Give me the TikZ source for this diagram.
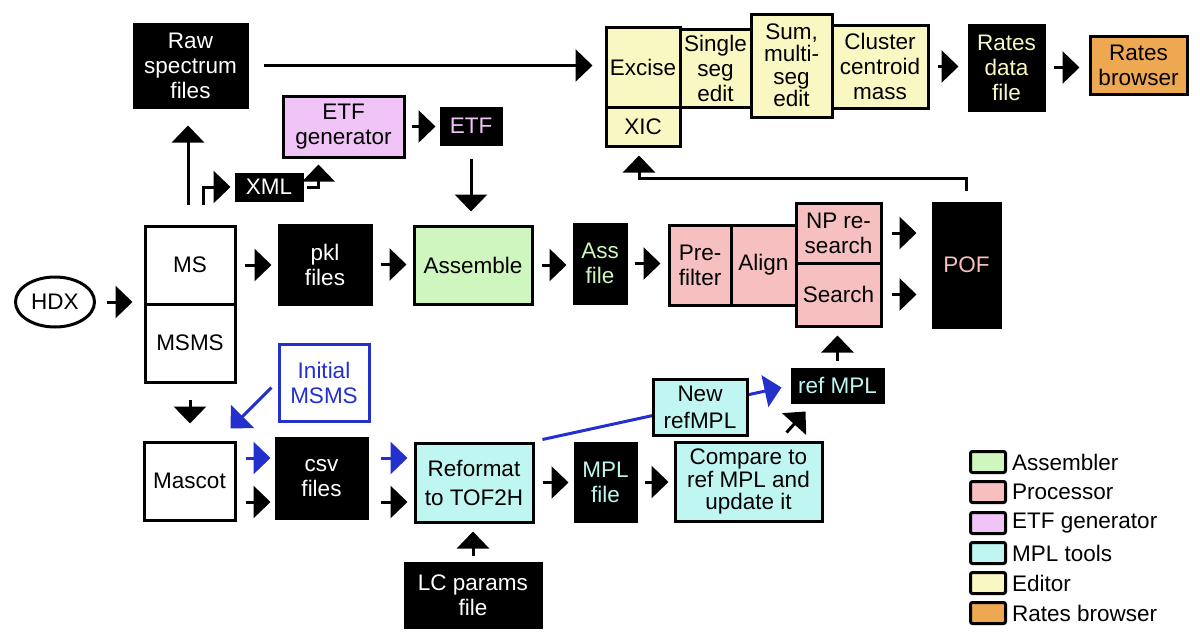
\documentclass[tikz,border=0pt]{standalone}
\usepackage{fontspec}
\setmainfont{Liberation Sans}
\usetikzlibrary{arrows.meta,shapes.geometric,calc}
\definecolor{asmc}{RGB}{206,246,190}
\definecolor{proc}{RGB}{247,192,192}
\definecolor{etfc}{RGB}{240,196,246}
\definecolor{mplc}{RGB}{192,246,242}
\definecolor{edc}{RGB}{250,248,194}
\definecolor{rbc}{RGB}{239,168,82}
\definecolor{bluec}{RGB}{36,48,204}
\newcommand\dfont{\fontsize{22.5}{25}\selectfont}
\newcommand\dfontw{\fontsize{22.5}{29}\selectfont}
\newcommand\dfontn{\fontsize{22.5}{22.5}\selectfont}
\newcommand\bx[7]{\node[#6,minimum width={#4-#2},minimum height={#5-#3}] (#1) at ({(#2+#4)/2},{(#3+#5)/2}) {#7};}
\tikzset{
  base/.style={line width=3pt, inner sep=0pt, align=center, font=\dfont},
  blk/.style={base, fill=black, draw=black, text=white},
  wbox/.style={base, fill=white, draw=black},
  asmb/.style={base, fill=asmc, draw=black},
  prob/.style={base, fill=proc, draw=black},
  etfb/.style={base, fill=etfc, draw=black},
  mplb/.style={base, fill=mplc, draw=black},
  edb/.style={base, fill=edc, draw=black},
  rbb/.style={base, fill=rbc, draw=black},
  arr/.style={line width=3pt, -{Triangle[length=17pt,width=32pt]}},
  barr/.style={arr, draw=bluec, fill=bluec},
  legbox/.style={draw=black, line width=3pt, minimum width=35, minimum height=21, rounded corners=2pt, inner sep=0pt},
  legtxt/.style={anchor=west, inner sep=0pt, font=\dfont}
}
\begin{document}
\begin{tikzpicture}[x=1pt,y=-1pt]
\useasboundingbox (0,0) rectangle (1200,640);
\fill[white] (0,0) rectangle (1200,640);
% top row
\bx{raw}{134}{24}{247}{107}{blk}{Raw\\spectrum\\files}
\bx{etfgen}{283}{96}{404}{157}{etfb}{ETF\\generator}
\bx{etf}{441}{108}{501}{144}{blk,text=etfc}{ETF}
\bx{xml}{236}{174}{302}{200}{blk}{XML}
% editor
\bx{excise}{606}{27}{680}{107}{edb}{Excise}
\bx{xic}{606}{107}{680}{146}{edb}{XIC}
\bx{single}{680}{29}{751}{107}{edb}{Single\\seg\\edit}
\bx{sum}{751}{14}{832}{117}{edb,font=\dfontn}{Sum,\\multi-\\seg\\edit}
\bx{cluster}{832}{25}{928}{108}{edb}{Cluster\\centroid\\mass}
\bx{rates}{969}{25}{1044}{110}{blk,text=edc}{Rates\\data\\file}
\bx{browser}{1090}{36}{1187}{94}{rbb}{Rates\\browser}
% middle row
\node[ellipse, draw=black, line width=3pt, minimum width=79, minimum height=50, inner sep=0pt, font=\dfont] (hdx) at (55,302) {HDX};
\bx{ms}{145}{226}{235}{304}{wbox}{MS}
\bx{msms}{145}{304}{235}{382}{wbox}{MSMS}
\bx{pkl}{279}{225}{371}{304}{blk}{pkl\\files}
\bx{asm}{414}{226}{532}{304}{asmb}{Assemble}
\bx{ass}{574}{224}{626}{303}{blk,text=asmc}{Ass\\file}
\bx{pre}{669}{225}{731}{305}{prob}{Pre-\\filter}
\bx{align}{731}{225}{796}{305}{prob}{Align}
\bx{np}{796}{203}{881}{263}{prob}{NP re-\\search}
\bx{search}{796}{263}{881}{326}{prob}{Search}
\bx{pof}{933}{203}{1000}{327}{blk,text=proc}{POF}
% bottom row
\bx{init}{279}{344}{369}{421}{wbox,draw=bluec,text=bluec}{Initial\\MSMS}
\bx{mascot}{144}{442}{235}{520}{wbox}{Mascot}
\bx{csv}{276}{438}{367}{518}{blk}{csv\\files}
\bx{reformat}{415}{443}{533}{522}{mplb,font=\dfontw}{Reformat\\to TOF2H}
\bx{mplf}{575}{443}{636}{521}{blk,text=mplc}{MPL\\file}
\bx{compare}{675}{442}{822}{521}{mplb,font=\dfontn}{Compare to\\ref MPL and\\update it}
\bx{refmpl}{792}{369}{883}{402}{blk,text=mplc}{ref MPL}
\draw[barr] ([shift={(8pt,2pt)}]reformat.north east) -- ([shift={(-9pt,-2pt)}]refmpl.west);
\bx{newref}{653}{379}{747}{435}{mplb,font=\fontsize{22.5}{27}\selectfont}{New\\refMPL}
\bx{lc}{405}{563}{541}{627}{blk}{LC params\\file}
% legend
\node[legbox, fill=asmc] (lg1) at (988,462) {};
\node[legtxt] (lt1) at (1012,462) {Assembler};
\node[legbox, fill=proc] (lg2) at (988,492) {};
\node[legtxt] (lt2) at (1012,492) {Processor};
\node[legbox, fill=etfc] (lg3) at (988,523) {};
\node[legtxt] (lt3) at (1012,523) {ETF generator};
\node[legbox, fill=mplc] (lg4) at (988,553) {};
\node[legtxt] (lt4) at (1012,553) {MPL tools};
\node[legbox, fill=edc] (lg5) at (988,583) {};
\node[legtxt] (lt5) at (1012,583) {Editor};
\node[legbox, fill=rbc] (lg6) at (988,613) {};
\node[legtxt] (lt6) at (1012,613) {Rates browser};
% connectors top
\draw[arr,shorten <=15pt,shorten >=12pt] (raw.east) -- (raw.east -| excise.west);
\draw[arr,shorten <=6pt,shorten >=4pt] (etfgen.east) -- (etfgen.east -| etf.west);
\draw[arr,shorten <=13pt,shorten >=13pt] (etf.south) -- (etf.south |- asm.north);
\coordinate (msup) at ([yshift=20pt]ms.north);
\draw[arr,shorten >=17pt] ([xshift=-2pt]msup) -- ([xshift=-2pt]msup |- raw.south);
\draw[arr,shorten >=4pt] ([xshift=13pt]msup) |- (xml.west);
\draw[arr,shorten <=3pt,shorten >=6pt] (xml.east) -| ($(etfgen.south west)+(37,0)$);
\draw[arr,shorten <=8pt,shorten >=9pt] (cluster.east) -- (cluster.east -| rates.west);
\draw[arr,shorten <=8pt,shorten >=9pt] (rates.east) -- (rates.east -| browser.west);
% connectors middle
\draw[arr,shorten <=11pt,shorten >=11pt] (hdx.east) -- (hdx.east -| ms.west);
\draw[arr,shorten <=8pt,shorten >=6pt] (ms.east) -- (ms.east -| pkl.west);
\draw[arr,shorten <=8pt,shorten >=6pt] (pkl.east) -- (pkl.east -| asm.west);
\draw[arr,shorten <=8pt,shorten >=6pt] (asm.east) -- (asm.east -| ass.west);
\draw[arr,shorten <=7pt,shorten >=7pt] (ass.east) -- (ass.east -| pre.west);
\draw[arr,shorten <=9pt,shorten >=15pt] (np.east) -- (np.east -| pof.west);
\draw[arr,shorten <=9pt,shorten >=15pt] (search.east) -- (search.east -| pof.west);
\coordinate (fb) at (0,178);
\draw[arr,shorten <=11pt,shorten >=8pt] (pof.north) -- (pof.north |- fb) -- ([xshift=-4pt]xic.south |- fb) -- ([xshift=-4pt]xic.south);
% connectors bottom
\draw[arr,shorten <=16pt,shorten >=17pt] (msms.south) -- (msms.south |- mascot.north);
\draw[barr] ([shift={(-6pt,-5pt)}]init.west) -- ([shift={(-6pt,12pt)}]mascot.north east);
\draw[barr,shorten <=9pt,shorten >=4pt] ([yshift=23pt]mascot.east) -- ([yshift=23pt]mascot.east -| csv.west);
\draw[arr,shorten <=9pt,shorten >=4pt] ([yshift=-21pt]mascot.east) -- ([yshift=-21pt]mascot.east -| csv.west);
\draw[barr,shorten <=12pt,shorten >=6pt] ([yshift=20pt]csv.east) -- ([yshift=20pt]csv.east -| reformat.west);
\draw[arr,shorten <=12pt,shorten >=6pt] ([yshift=-24pt]csv.east) -- ([yshift=-24pt]csv.east -| reformat.west);
\draw[arr,shorten <=8pt,shorten >=5pt] (reformat.east) -- (reformat.east -| mplf.west);
\draw[arr,shorten <=7pt,shorten >=5pt] (mplf.east) -- (mplf.east -| compare.west);
\draw[arr] ([shift={(-37pt,8pt)}]compare.north east) -- ([shift={(15pt,-8pt)}]refmpl.south west);
\draw[arr,shorten <=7pt,shorten >=8pt] (refmpl.north) -- (refmpl.north |- search.south);
\draw[arr,shorten <=6pt,shorten >=8pt] (lc.north) -- (lc.north |- reformat.south);
\end{tikzpicture}
\end{document}
